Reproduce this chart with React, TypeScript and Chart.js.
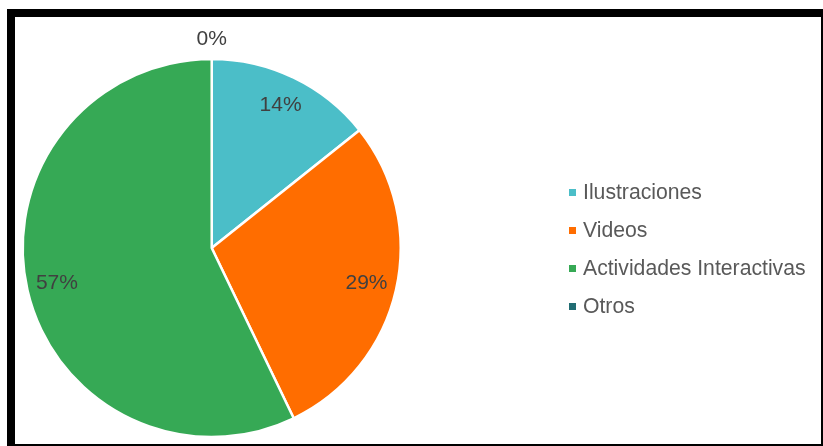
import React, { useEffect, useRef } from "react";
import { Chart, registerables } from "chart.js";

Chart.register(...registerables);

const categories = ["Ilustraciones", "Videos", "Actividades Interactivas", "Otros"];
const counts = [1, 2, 4, 0];
const colors = ["#4BBEC8", "#FF6D00", "#36A955", "#216D73"];

const FONT = "'Liberation Sans', Arial, sans-serif";

const labelPlugin = {
  id: "sliceLabels",
  afterDatasetsDraw(chart: any) {
    const ctx = chart.ctx;
    const meta = chart.getDatasetMeta(0);
    const data = chart.data.datasets[0].data as number[];
    const total = data.reduce((a, b) => a + b, 0);
    ctx.save();
    ctx.font = `21px ${FONT}`;
    ctx.fillStyle = "#404040";
    ctx.textAlign = "center";
    ctx.textBaseline = "middle";
    meta.data.forEach((arc: any, i: number) => {
      const { startAngle, endAngle, x, y, outerRadius } = arc.getProps(
        ["startAngle", "endAngle", "x", "y", "outerRadius"],
        true
      );
      const mid = (startAngle + endAngle) / 2;
      const v = data[i];
      const r = v === 0 ? outerRadius + 20 : outerRadius * 0.84;
      const pct = Math.round((v / total) * 100) + "%";
      ctx.fillText(pct, x + Math.cos(mid) * r, y + Math.sin(mid) * r);
    });
    ctx.restore();
  },
};

const legendPlugin = {
  id: "sideLegend",
  afterDraw(chart: any) {
    const ctx = chart.ctx;
    const labels = chart.data.labels as string[];
    const bg = chart.data.datasets[0].backgroundColor as string[];
    const boxX = 554;
    const textX = 568;
    const firstY = 175.5;
    const step = 38;
    ctx.save();
    ctx.font = `21.2px ${FONT}`;
    ctx.textBaseline = "middle";
    ctx.textAlign = "left";
    labels.forEach((t, i) => {
      const cy = firstY + i * step;
      ctx.fillStyle = bg[i];
      ctx.fillRect(boxX, cy - 3.5, 7, 7);
      ctx.fillStyle = "#595959";
      ctx.fillText(t, textX, cy + 1);
    });
    ctx.restore();
  },
};

export default function App() {
  const ref = useRef<HTMLCanvasElement | null>(null);
  useEffect(() => {
    if (!ref.current) return;
    const chart = new Chart(ref.current, {
      type: "pie",
      data: {
        labels: categories,
        datasets: [
          {
            data: counts,
            backgroundColor: colors,
            borderColor: "#ffffff",
            borderWidth: 2.5,
          },
        ],
      },
      options: {
        responsive: false,
        animation: false,
        layout: { padding: { left: 6.45, right: 419.05, top: 40.75, bottom: 5.75 } },
        plugins: {
          legend: { display: false },
          tooltip: { enabled: false },
        },
      },
      plugins: [labelPlugin, legendPlugin],
    });
    return () => chart.destroy();
  }, []);

  return (
    <div
      style={{
        position: "absolute",
        left: 7,
        top: 9,
        width: 816,
        height: 437,
        boxSizing: "border-box",
        borderStyle: "solid",
        borderColor: "#000",
        borderWidth: "8px 2px 2px 8px",
        background: "#fff",
      }}
    >
      <canvas ref={ref} width={806} height={427} style={{ display: "block" }} />
    </div>
  );
}
